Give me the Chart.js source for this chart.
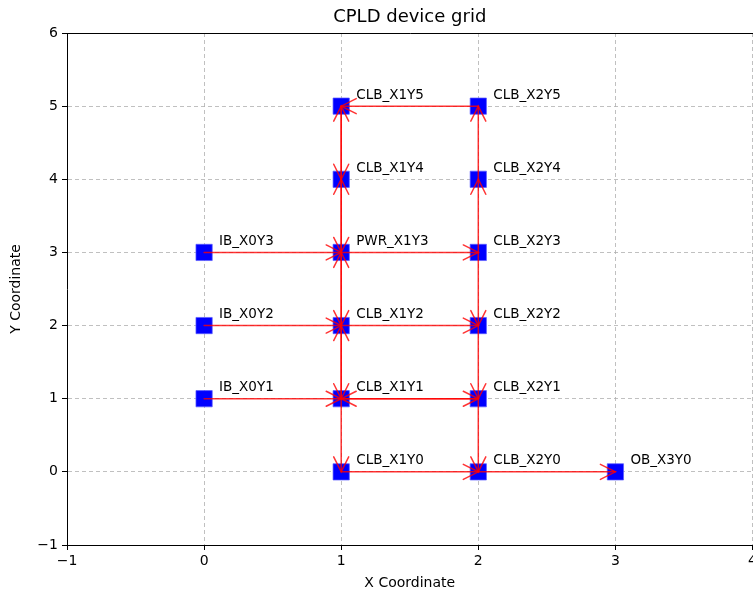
<!DOCTYPE html>
<html>
<head>
<meta charset="utf-8">
<script src="https://cdn.jsdelivr.net/npm/chart.js@4"></script>
<style>
  html, body { margin: 0; padding: 0; background: #fff; }
  #wrap { width: 753px; height: 596px; overflow: hidden; }
</style>
</head>
<body>
<div id="wrap"><canvas id="chart" width="765" height="596"></canvas></div>
<script>
const nodeNames = ["IB_X0Y1", "IB_X0Y2", "IB_X0Y3",
  "CLB_X1Y0", "CLB_X1Y1", "CLB_X1Y2", "PWR_X1Y3", "CLB_X1Y4", "CLB_X1Y5",
  "CLB_X2Y0", "CLB_X2Y1", "CLB_X2Y2", "CLB_X2Y3", "CLB_X2Y4", "CLB_X2Y5",
  "OB_X3Y0"];
const nodeX = [0, 0, 0, 1, 1, 1, 1, 1, 1, 2, 2, 2, 2, 2, 2, 3];
const nodeY = [1, 2, 3, 0, 1, 2, 3, 4, 5, 0, 1, 2, 3, 4, 5, 0];

const edgeFrom = ["IB_X0Y3", "IB_X0Y2", "IB_X0Y1", "PWR_X1Y3", "CLB_X1Y2", "CLB_X1Y1",
  "CLB_X2Y1", "CLB_X1Y0", "CLB_X2Y0", "CLB_X2Y5", "CLB_X1Y5", "CLB_X1Y4",
  "CLB_X1Y4", "PWR_X1Y3", "PWR_X1Y3", "CLB_X1Y2", "CLB_X1Y2", "CLB_X1Y1",
  "CLB_X1Y1", "CLB_X2Y4", "CLB_X2Y3", "CLB_X2Y3", "CLB_X2Y2", "CLB_X2Y1"];
const edgeTo = ["PWR_X1Y3", "CLB_X1Y2", "CLB_X1Y1", "CLB_X2Y3", "CLB_X2Y2", "CLB_X2Y1",
  "CLB_X1Y1", "CLB_X2Y0", "OB_X3Y0", "CLB_X1Y5", "CLB_X1Y4", "CLB_X1Y5",
  "PWR_X1Y3", "CLB_X1Y4", "CLB_X1Y2", "PWR_X1Y3", "CLB_X1Y1", "CLB_X1Y2",
  "CLB_X1Y0", "CLB_X2Y5", "CLB_X2Y4", "CLB_X2Y2", "CLB_X2Y1", "CLB_X2Y0"];

const xTicks = [-1, 0, 1, 2, 3, 4];
const yTicks = [-1, 0, 1, 2, 3, 4, 5, 6];
const chartTitle = "CPLD device grid";

const points = nodeNames.map((n, i) => ({ x: nodeX[i], y: nodeY[i] }));
const FONT = "'DejaVu Sans', sans-serif";
const minus = v => String(v).replace("-", "\u2212");

// arrows, node labels, title, top spine
const arrowPlugin = {
  id: "arrows",
  afterDatasetsDraw(chart) {
    const { ctx, scales: { x, y }, chartArea } = chart;
    ctx.save();
    ctx.strokeStyle = "rgba(255,0,0,0.8)";
    ctx.lineWidth = 1.5;
    ctx.lineCap = "round";
    for (let i = 0; i < edgeFrom.length; i++) {
      const a = nodeNames.indexOf(edgeFrom[i]);
      const b = nodeNames.indexOf(edgeTo[i]);
      const x0 = x.getPixelForValue(nodeX[a]), y0 = y.getPixelForValue(nodeY[a]);
      const x1 = x.getPixelForValue(nodeX[b]), y1 = y.getPixelForValue(nodeY[b]);
      const ang = Math.atan2(y1 - y0, x1 - x0);
      const len = 15, hw = 7.5;
      ctx.beginPath();
      ctx.moveTo(x0, y0);
      ctx.lineTo(x1, y1);
      ctx.stroke();
      const bx = x1 - len * Math.cos(ang), by = y1 - len * Math.sin(ang);
      const px = -Math.sin(ang) * hw, py = Math.cos(ang) * hw;
      ctx.beginPath();
      ctx.moveTo(bx + px, by + py);
      ctx.lineTo(x1, y1);
      ctx.lineTo(bx - px, by - py);
      ctx.stroke();
    }
    ctx.fillStyle = "#000";
    ctx.font = "13.5px " + FONT;
    ctx.textAlign = "left";
    ctx.textBaseline = "middle";
    nodeNames.forEach((n, i) => {
      ctx.fillText(n, x.getPixelForValue(nodeX[i]) + 15, y.getPixelForValue(nodeY[i]) - 11);
    });
    ctx.font = "18px " + FONT;
    ctx.textAlign = "center";
    ctx.fillText(chartTitle, (chartArea.left + chartArea.right) / 2, 17);
    ctx.strokeStyle = "#000";
    ctx.lineWidth = 1;
    ctx.beginPath();
    ctx.moveTo(chartArea.left, chartArea.top + 0.5);
    ctx.lineTo(chartArea.right + 2, chartArea.top + 0.5);
    ctx.stroke();
    ctx.restore();
  }
};

new Chart(document.getElementById("chart"), {
  type: "scatter",
  data: {
    datasets: [{
      data: points,
      pointStyle: "rect",
      pointRadius: 11.5,
      pointHoverRadius: 11.5,
      backgroundColor: "#0000ff",
      borderColor: "rgba(90,90,255,0.7)",
      borderWidth: 1
    }]
  },
  options: {
    responsive: false,
    animation: false,
    layout: { padding: { top: 33, right: 0, left: 0, bottom: 0 } },
    plugins: {
      legend: { display: false },
      tooltip: { enabled: false },
      title: { display: false }
    },
    scales: {
      x: {
        type: "linear",
        min: -1,
        max: 4,
        afterBuildTicks: s => { s.ticks = xTicks.map(v => ({ value: v })); },
        afterFit: s => { s.height = 51; s.paddingLeft = 0; s.paddingRight = 0; },
        ticks: {
          color: "#000",
          font: { family: FONT, size: 14 },
          padding: 3,
          maxRotation: 0,
          callback: v => minus(v)
        },
        grid: {
          color: "rgba(176,176,176,0.8)",
          lineWidth: 1,
          tickColor: "#000",
          tickLength: 5,
          tickBorderDash: []
        },
        border: { display: true, color: "#000", width: 1, dash: [4, 3] },
        title: {
          display: true,
          text: "X Coordinate",
          color: "#000",
          font: { family: FONT, size: 14 },
          padding: { top: 2, bottom: 4 }
        }
      },
      y: {
        type: "linear",
        min: -1,
        max: 6,
        afterBuildTicks: s => { s.ticks = yTicks.map(v => ({ value: v })); },
        afterFit: s => { s.width = 67; s.paddingTop = 0; s.paddingBottom = 0; },
        ticks: {
          color: "#000",
          font: { family: FONT, size: 14 },
          padding: 4,
          callback: v => minus(v)
        },
        grid: {
          color: "rgba(176,176,176,0.8)",
          lineWidth: 1,
          tickColor: "#000",
          tickLength: 5,
          tickBorderDash: []
        },
        border: { display: true, color: "#000", width: 1, dash: [4, 3] },
        title: {
          display: true,
          text: "Y Coordinate",
          color: "#000",
          font: { family: FONT, size: 14 },
          padding: { top: 8, bottom: 4 }
        }
      }
    }
  },
  plugins: [arrowPlugin]
});
</script>
</body>
</html>
